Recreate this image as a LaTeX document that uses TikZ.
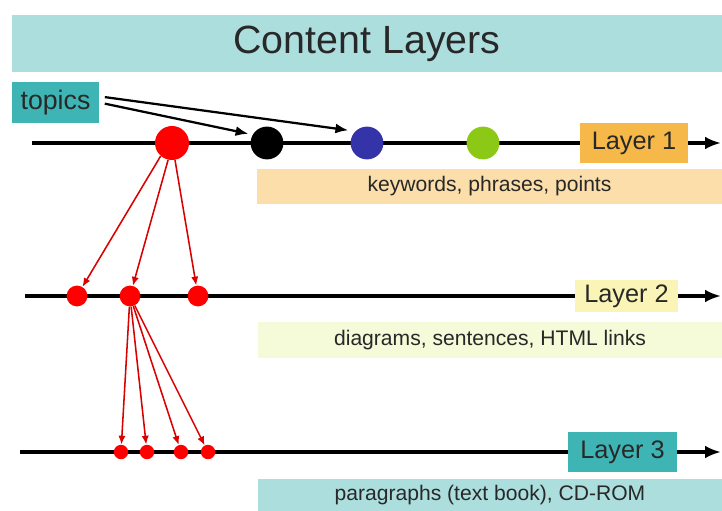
\documentclass[tikz,border=0pt]{standalone}
\usepackage{fontspec}
\setmainfont{Liberation Sans}
\usetikzlibrary{arrows.meta}
\definecolor{barteal}{RGB}{172,222,222}
\definecolor{darkteal}{RGB}{62,180,180}
\definecolor{layerorange}{RGB}{246,184,72}
\definecolor{lightorange}{RGB}{251,222,170}
\definecolor{lightyellow}{RGB}{250,245,182}
\definecolor{paleyellow}{RGB}{245,250,216}
\definecolor{topicblue}{RGB}{52,52,168}
\definecolor{topicgreen}{RGB}{140,200,22}
\definecolor{inkgray}{RGB}{40,40,40}
\tikzset{box/.style={rectangle, inner sep=0pt, text=inkgray},
         layer/.style={box, minimum width=2.7cm, minimum height=1cm, font=\fontsize{18}{20}\selectfont},
         band/.style={box, minimum width=11.6cm, minimum height=0.88cm, font=\fontsize{15}{18}\selectfont},
         dot/.style={circle, inner sep=0pt},
         axis/.style={line width=2.2pt},
         axisarrow/.style={axis, -{Latex[length=4mm,width=3.2mm]}},
         redarrow/.style={red!85!black, line width=1.1pt, -{Latex[length=2.2mm,width=1.8mm]}},
         topicarrow/.style={line width=1.6pt, -{Latex[length=3.2mm,width=2.5mm]}, shorten <=4pt},
        }

\begin{document}
\begin{tikzpicture}[x=0.025cm, y=-0.025cm]
        \useasboundingbox (0,0) rectangle (722,511);
        \node[box, fill=barteal, minimum width=17.75cm, minimum height=1.425cm, font=\fontsize{28}{32}\selectfont](title)at(367,43.5){Content Layers};
        \node[box, fill=darkteal, minimum width=2.175cm, minimum height=1.025cm, font=\fontsize{19}{22}\selectfont](topics)at(55.5,102.5){topics};

        \node[layer, fill=layerorange](l1)at(634,143){Layer 1};
        \node[layer, fill=lightyellow, minimum width=2.575cm, minimum height=0.8cm](l2)at(626.5,296){Layer 2};
        \node[layer, fill=darkteal](l3)at(622.5,452){Layer 3};

        \node[band, fill=lightorange, minimum width=11.625cm](kw)at(489.5,186.5){keywords, phrases, points};
        \node[band, fill=paleyellow, minimum height=0.9cm](dg)at(490,340){diagrams, sentences, HTML links};
        \node[band, fill=barteal, minimum height=0.8cm](pg)at(490,495){paragraphs (text book), CD-ROM};

        \coordinate(s1)at(32,143);
        \coordinate(e1)at(721,143);
        \coordinate(s2)at(25,296);
        \coordinate(e2)at(721,296);
        \coordinate(s3)at(20,452);
        \coordinate(e3)at(721,452);

        \draw[axis](s1)--(l1.west);
        \draw[axisarrow](l1.east)--(e1);
        \draw[axis](s2)--(l2.west);
        \draw[axisarrow](l2.east)--(e2);
        \draw[axis](s3)--(l3.west);
        \draw[axisarrow](l3.east)--(e3);

        \node[dot, fill=red, minimum size=0.85cm](big)at(172,143){};
        \node[dot, fill=black, minimum size=0.82cm](tblack)at(267,143){};
        \node[dot, fill=topicblue, minimum size=0.82cm](tblue)at(367,143){};
        \node[dot, fill=topicgreen, minimum size=0.82cm](tgreen)at(483,143){};

        \node[dot, fill=red, minimum size=0.52cm](m1)at(77,296){};
        \node[dot, fill=red, minimum size=0.52cm](m2)at(130,296){};
        \node[dot, fill=red, minimum size=0.52cm](m3)at(198,296){};

        \node[dot, fill=red, minimum size=0.36cm](n1)at(121,452){};
        \node[dot, fill=red, minimum size=0.36cm](n2)at(147,452){};
        \node[dot, fill=red, minimum size=0.36cm](n3)at(181,452){};
        \node[dot, fill=red, minimum size=0.36cm](n4)at(208,452){};

        \draw[topicarrow, shorten >=3pt](topics.east)--(tblack.150);
        \draw[topicarrow, shorten >=5pt](topics.8)--(tblue.135);

        \draw[redarrow](big.229)--(m1);
        \draw[redarrow](big.257)--(m2);
        \draw[redarrow](big.280)--(m3);

        \draw[redarrow](m2)--(n1);
        \draw[redarrow](m2)--(n2);
        \draw[redarrow](m2)--(n3);
        \draw[redarrow](m2)--(n4);
    \end{tikzpicture}
\end{document}
